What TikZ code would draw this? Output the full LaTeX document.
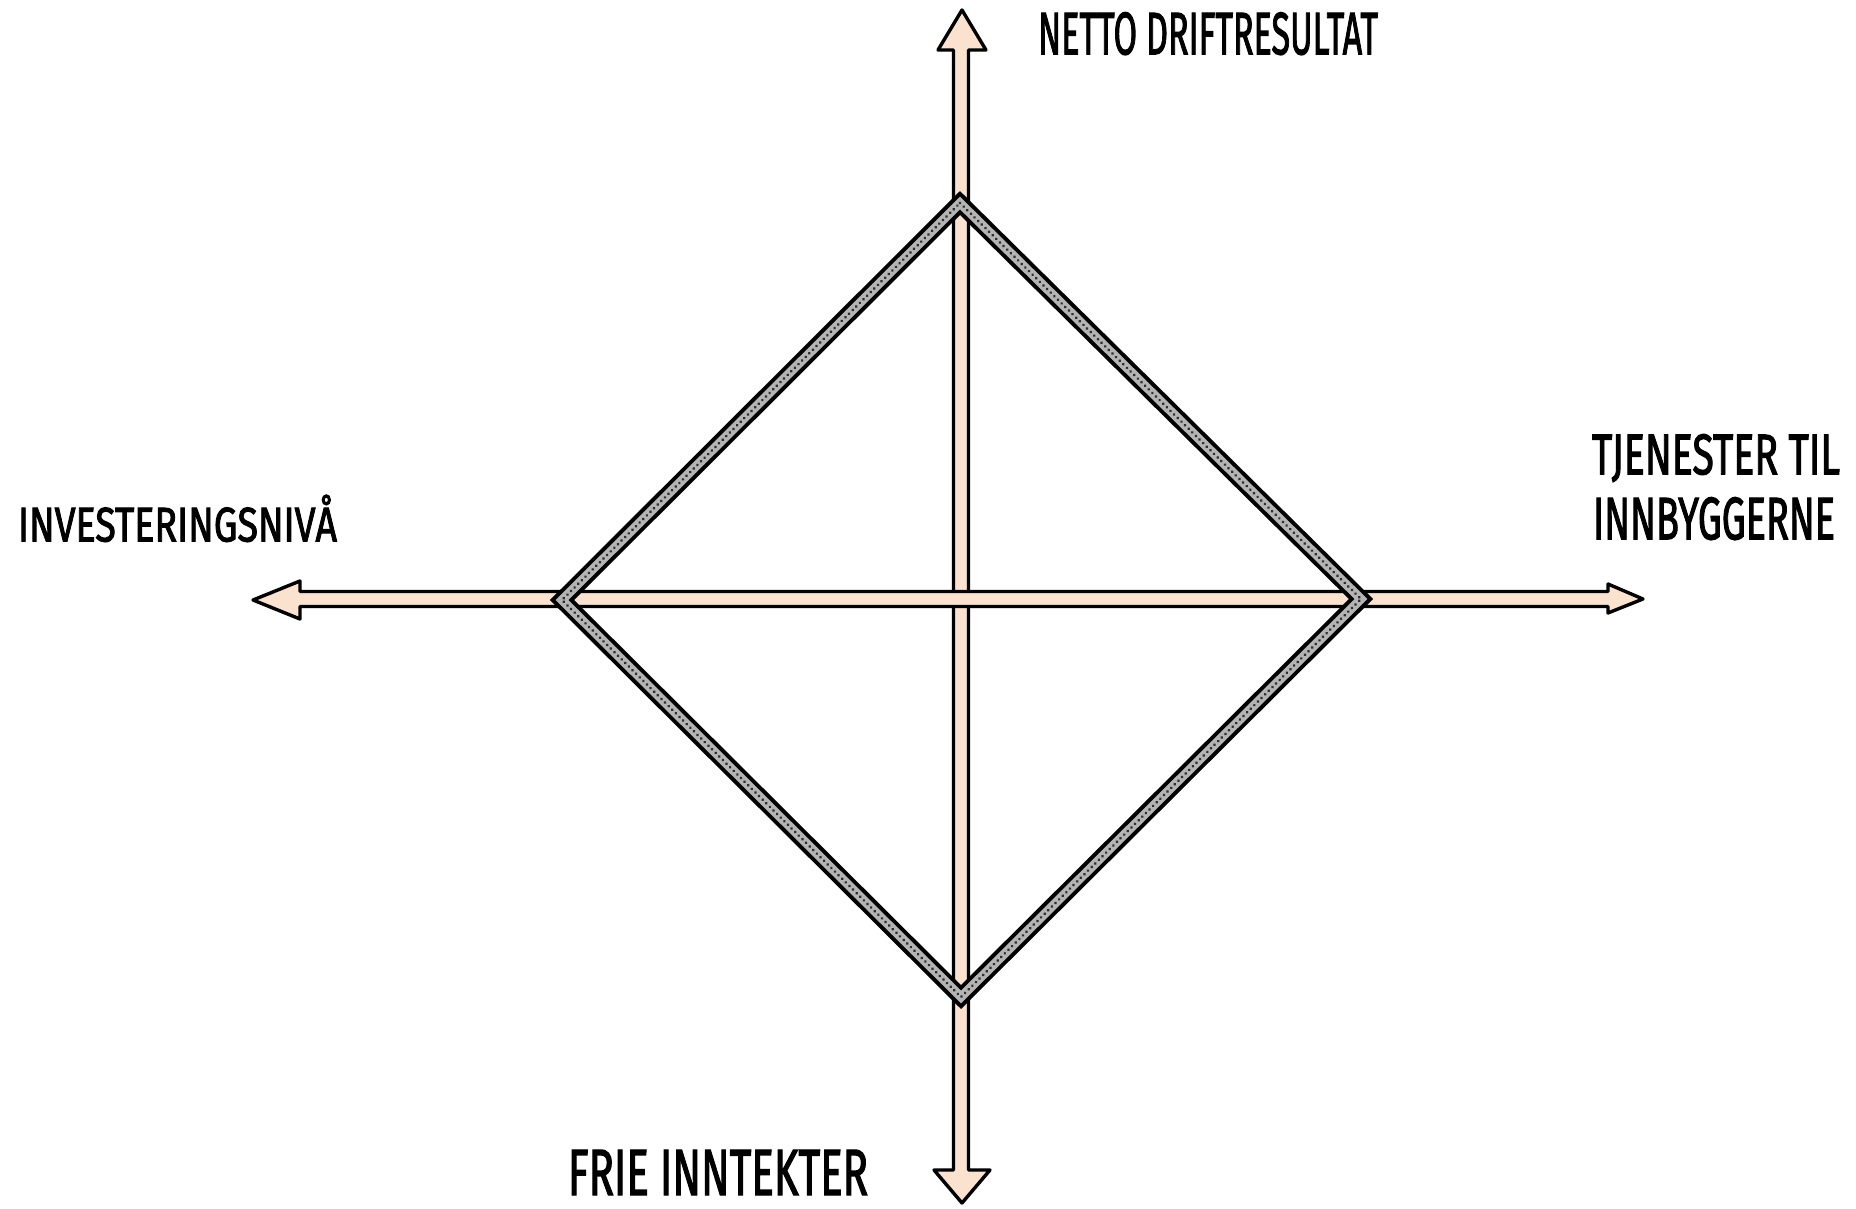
\documentclass[tikz,border=0pt]{standalone}
\usepackage{fontspec}
\usepackage{graphicx}
\newfontfamily\hand{Fira Sans}[FakeBold=2.2]
\definecolor{peach}{HTML}{FBE2CF}
\definecolor{bandgray}{HTML}{B4B4B4}
\definecolor{dotgray}{HTML}{2E2E2E}
\tikzset{
  arrowshape/.style={fill=peach,draw=black,line width=3.4pt,line join=round},
  lbl/.style={inner sep=0pt,outer sep=0pt,anchor=south west},
}
\newcommand{\handtext}[3]{\resizebox{#1pt}{#2pt}{\hand #3}}
\begin{document}
\begin{tikzpicture}[x=1pt,y=-1pt]
\useasboundingbox (0,0) rectangle (1856,1209);
% vertical double arrow
\draw[arrowshape] (962,10) -- (986,50) -- (968.5,50) -- (968.5,1170) -- (990,1170)
  -- (962,1203) -- (934,1170) -- (953.5,1170) -- (953.5,50) -- (938,50) -- cycle;
% horizontal double arrow
\draw[arrowshape] (253,600) -- (300,581) -- (300,591.5) -- (1608,591.5) -- (1608,584)
  -- (1643,599) -- (1608,613) -- (1608,606.5) -- (300,606.5) -- (300,619) -- cycle;
% diamond band
\coordinate (T) at (960,203);
\coordinate (L) at (562,600);
\coordinate (B) at (961,997);
\coordinate (R) at (1361,599);
\draw[line width=17pt,line join=miter,black] (T) -- (R) -- (B) -- (L) -- cycle;
\draw[line width=9pt,line join=miter,bandgray] (T) -- (R) -- (B) -- (L) -- cycle;
\draw[line width=3pt,dotgray,dash pattern=on 0.1pt off 5pt,line cap=round] (T) -- (R) -- (B) -- (L) -- cycle;
% labels
\node[lbl] (top) at (1038,55) {\handtext{340}{42}{NETTO DRIFTRESULTAT}};
\node[lbl] (left) at (18,542) {\handtext{319}{34}{INVESTERINGSNIV\smash{Å}}};
\node[lbl] (right1) at (1592,482) {\handtext{248}{40}{TJENESTER TIL}};
\node[lbl] (right2) at (1593,540) {\handtext{242}{42}{INNBYGGERNE}};
\node[lbl] (bottom) at (568,1195) {\handtext{300}{45}{FRIE INNTEKTER}};
\end{tikzpicture}
\end{document}
